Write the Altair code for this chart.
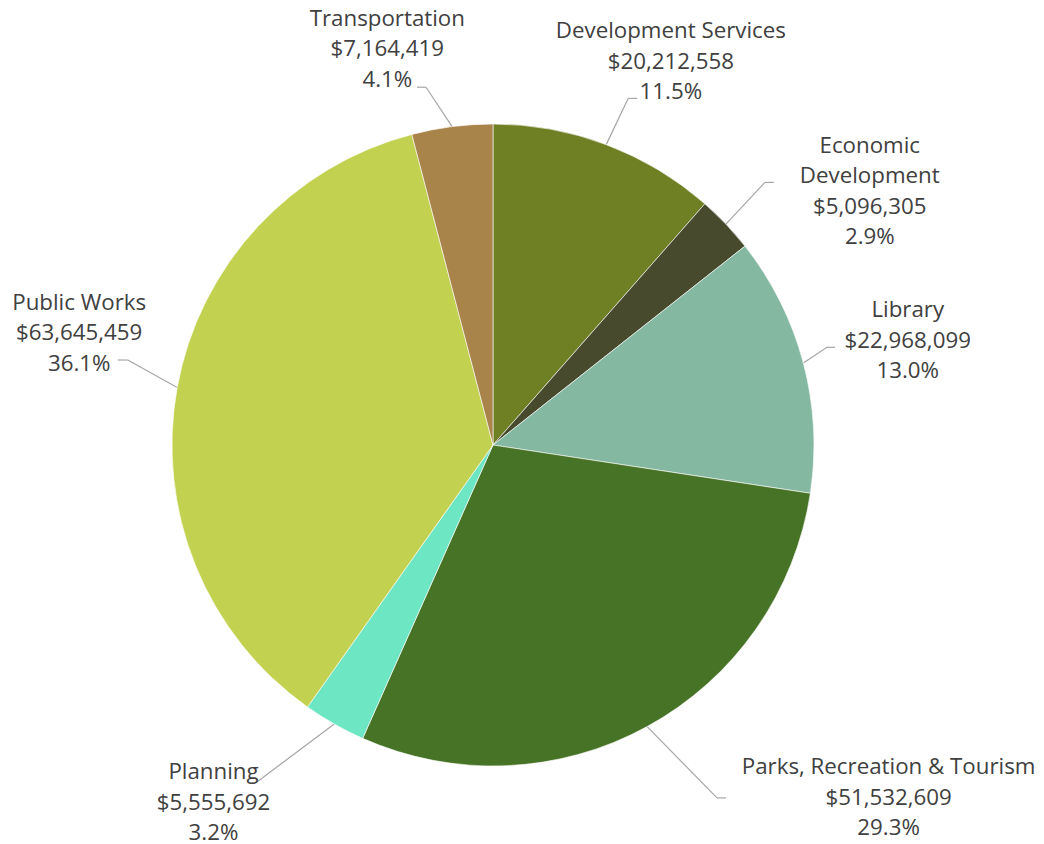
import math
import altair as alt
import pandas as pd

# ---- data ----
categories = ["Development Services", "Economic Development", "Library",
              "Parks, Recreation & Tourism", "Planning", "Public Works", "Transportation"]
label_names = ["Development Services", "Economic\nDevelopment", "Library",
               "Parks, Recreation & Tourism", "Planning", "Public Works", "Transportation"]
values = [20212558, 5096305, 22968099, 51532609, 5555692, 63645459, 7164419]
colors = ["#6f7f24", "#474a2c", "#84b8a1", "#477326", "#6de6c4", "#c2d14f", "#a8834a"]

# ---- layout (pixels / degrees, clockwise from 12 o'clock) ----
PIE_R = 321
LINE_H = 30.5
label_polar = [(424, 24.8), (455, 55.9), (428, 75.7), (529, 131.6), (453, 218.1), (429, 285.3), (411, 345.1)]
elbow_polar = [(372, 21.3), (378, 46.0), (348, 73.7), (418, 147.6), (411, 215.0), (375, 283.1), (364, 349.4)]
tick_len = [9, 9, 8, 9, 0, -10, -9]

total = sum(values)
rows, labels, segs = [], [], []
cum = 0.0
for i, (c, n, v) in enumerate(zip(categories, label_names, values)):
    frac = v / total
    mid = (cum + frac / 2) * 360
    cum += frac
    rows.append({"category": c, "value": v, "idx": i})
    txt = f"{n}\n${v:,}\n{frac*100:.1f}%"
    nlines = txt.count("\n") + 1
    lr, la = label_polar[i]
    a = math.radians(la)
    labels.append({"x": lr * math.sin(a),
                   "y": -lr * math.cos(a) - (nlines - 1) * LINE_H / 2 + 1.5,
                   "text": txt})
    m = math.radians(mid)
    sx, sy = PIE_R * math.sin(m), -PIE_R * math.cos(m)
    er, ea = elbow_polar[i]
    e = math.radians(ea)
    ex, ey = er * math.sin(e), -er * math.cos(e)
    segs.append({"x": sx, "y": sy, "x2": ex, "y2": ey})
    if tick_len[i] != 0:
        segs.append({"x": ex, "y": ey, "x2": ex + tick_len[i], "y2": ey})

df = pd.DataFrame(rows)
ldf = pd.DataFrame(labels)
sdf = pd.DataFrame(segs)

W, H = 1028, 836
xs = alt.Scale(domain=[-485, 543], nice=False, zero=False)
ys = alt.Scale(domain=[-437, 399], nice=False, zero=False, reverse=True)

pie = alt.Chart(df).mark_arc(radius=PIE_R, stroke="#ffffff", strokeWidth=0.6).encode(
    x=alt.X(datum=0, type="quantitative", scale=xs, axis=None),
    y=alt.Y(datum=0, type="quantitative", scale=ys, axis=None),
    theta=alt.Theta("value:Q", stack=True),
    order=alt.Order("idx:Q"),
    color=alt.Color("category:N", scale=alt.Scale(domain=categories, range=colors), legend=None),
)

leaders = alt.Chart(sdf).mark_rule(color="#a6a6a6", strokeWidth=1.2).encode(
    x=alt.X("x:Q", scale=xs, axis=None),
    y=alt.Y("y:Q", scale=ys, axis=None),
    x2="x2:Q",
    y2="y2:Q",
)

text = alt.Chart(ldf).mark_text(
    font="Open Sans", fontSize=22.3, color="#404040", lineBreak="\n",
    lineHeight=LINE_H, align="center", baseline="middle",
).encode(
    x=alt.X("x:Q", scale=xs, axis=None),
    y=alt.Y("y:Q", scale=ys, axis=None),
    text="text:N",
)

chart = alt.layer(leaders, pie, text).properties(
    width=W, height=H, padding=0, autosize=alt.AutoSizeParams(type="none")
).configure_view(stroke=None)

chart.save("out.html", embed_options={"renderer": "svg", "actions": False})
